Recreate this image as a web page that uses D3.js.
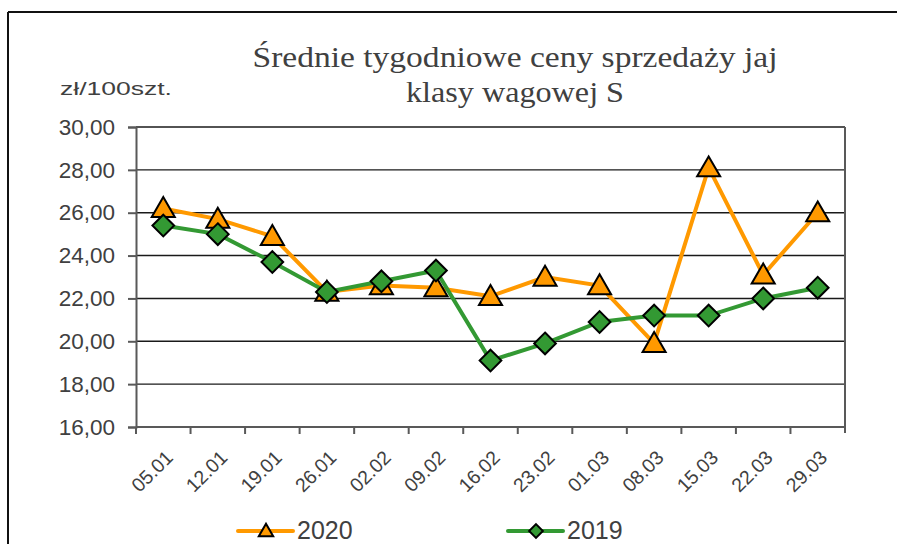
<!DOCTYPE html>
<html>
<head>
<meta charset="utf-8">
<script src="https://cdn.jsdelivr.net/npm/d3@7"></script>
<style>
  body { margin: 0; background: #fff; }
  svg { display: block; }
</style>
</head>
<body>
<svg id="wykres" width="897" height="544"></svg>
<script>
// dane
const tygodnie = ["05.01", "12.01", "19.01", "26.01", "02.02", "09.02", "16.02",
                  "23.02", "01.03", "08.03", "15.03", "22.03", "29.03"];
const ceny2020 = [26.2, 25.7, 24.9, 22.3, 22.6, 22.5, 22.1, 23.0, 22.6, 19.9, 28.1, 23.1, 26.0];
const ceny2019 = [25.4, 25.0, 23.7, 22.3, 22.8, 23.3, 19.1, 19.9, 20.9, 21.2, 21.2, 22.0, 22.5];
const ticksY = [16, 18, 20, 22, 24, 26, 28, 30];

const svg = d3.select("#wykres");
const lewo = 136, prawo = 845, gora = 127, dol = 427;

const x = d3.scaleBand().domain(tygodnie).range([lewo, prawo]).paddingInner(0).paddingOuter(0);
const y = d3.scaleLinear().domain([16, 30]).range([dol, gora]);
const cx = d => x(d) + x.bandwidth() / 2;

// ramka wykresu (górna i lewa krawędź)
svg.append("line").attr("x1", 8).attr("y1", 12).attr("x2", 897).attr("y2", 12)
    .attr("stroke", "#111").attr("stroke-width", 2);
svg.append("line").attr("x1", 8).attr("y1", 12).attr("x2", 8).attr("y2", 544)
    .attr("stroke", "#111").attr("stroke-width", 2);

// tytuł
const tytul = svg.append("text")
    .attr("font-family", "'Liberation Serif', serif")
    .attr("font-size", 29)
    .attr("fill", "#404040")
    .attr("text-anchor", "middle");
tytul.append("tspan").attr("x", 515).attr("y", 67)
    .attr("textLength", 525).attr("lengthAdjust", "spacingAndGlyphs")
    .text("Średnie tygodniowe ceny sprzedaży jaj");
tytul.append("tspan").attr("x", 515).attr("y", 102)
    .attr("textLength", 218).attr("lengthAdjust", "spacingAndGlyphs")
    .text("klasy wagowej S");

// jednostka
svg.append("text")
    .attr("x", 60).attr("y", 95)
    .attr("font-family", "Arial, 'Liberation Sans', sans-serif")
    .attr("font-size", 19)
    .attr("fill", "#404040")
    .attr("textLength", 112).attr("lengthAdjust", "spacingAndGlyphs")
    .text("zł/100szt.");

// linie siatki
svg.append("g").selectAll("line")
    .data(ticksY.filter(t => t > 16))
    .join("line")
    .attr("x1", lewo).attr("x2", prawo)
    .attr("y1", d => y(d)).attr("y2", d => y(d))
    .attr("stroke", "#1a1a1a").attr("stroke-width", 1.4);

// oś Y
const osY = svg.append("g")
    .attr("transform", `translate(${lewo},0)`)
    .call(d3.axisLeft(y).tickValues(ticksY).tickSize(8).tickPadding(13)
        .tickFormat(d => d3.format(".2f")(d).replace(".", ",")));
osY.select(".domain").attr("stroke", "#595959").attr("stroke-width", 2);
osY.selectAll(".tick line").attr("stroke", "#595959").attr("stroke-width", 2);
osY.selectAll(".tick text")
    .attr("font-family", "Arial, 'Liberation Sans', sans-serif")
    .attr("font-size", 22.5)
    .attr("fill", "#404040");

// prawa krawędź obszaru wykresu
svg.append("line").attr("x1", prawo).attr("x2", prawo).attr("y1", gora).attr("y2", dol + 6)
    .attr("stroke", "#595959").attr("stroke-width", 2);

// oś X
svg.append("line").attr("x1", lewo).attr("x2", prawo).attr("y1", dol).attr("y2", dol)
    .attr("stroke", "#595959").attr("stroke-width", 2);
svg.append("g").selectAll("line")
    .data(tygodnie)
    .join("line")
    .attr("x1", d => x(d)).attr("x2", d => x(d))
    .attr("y1", dol).attr("y2", dol + 7)
    .attr("stroke", "#595959").attr("stroke-width", 2);
svg.append("g").selectAll("text")
    .data(tygodnie)
    .join("text")
    .attr("transform", d => `translate(${cx(d) + 1},${dol + 22}) rotate(-45)`)
    .attr("text-anchor", "end")
    .attr("dy", "0.71em")
    .attr("font-family", "Arial, 'Liberation Sans', sans-serif")
    .attr("font-size", 19.5)
    .attr("fill", "#404040")
    .text(d => d);

// serie
const linia = d3.line().x((d, i) => cx(tygodnie[i])).y(d => y(d));
const trojkat = d3.symbol().type(d3.symbolTriangle);
const romb = d3.symbol().type(d3.symbolDiamond2);

svg.append("path").datum(ceny2020)
    .attr("d", linia).attr("fill", "none")
    .attr("stroke", "#FF9900").attr("stroke-width", 4);
svg.append("path").datum(ceny2019)
    .attr("d", linia).attr("fill", "none")
    .attr("stroke", "#339933").attr("stroke-width", 4);

svg.append("g").selectAll("path")
    .data(ceny2020)
    .join("path")
    .attr("transform", (d, i) => `translate(${cx(tygodnie[i])},${y(d) + 2})`)
    .attr("d", trojkat.size(230))
    .attr("fill", "#FF9900").attr("stroke", "#000").attr("stroke-width", 2);

svg.append("g").selectAll("path")
    .data(ceny2019)
    .join("path")
    .attr("transform", (d, i) => `translate(${cx(tygodnie[i])},${y(d)})`)
    .attr("d", romb.size(300))
    .attr("fill", "#339933").attr("stroke", "#000").attr("stroke-width", 2);

// legenda
const legenda = [
  { nazwa: "2020", kolor: "#FF9900", symbol: d3.symbolTriangle, rozmiar: 90, x: 238, dy: 1 },
  { nazwa: "2019", kolor: "#339933", symbol: d3.symbolDiamond2, rozmiar: 120, x: 508, dy: 0 }
];
const lg = svg.append("g").selectAll("g").data(legenda).join("g")
    .attr("transform", d => `translate(${d.x},531)`);
lg.append("line").attr("x1", 0).attr("x2", 55).attr("y1", 0).attr("y2", 0)
    .attr("stroke", d => d.kolor).attr("stroke-width", 4).attr("stroke-linecap", "round");
lg.append("path")
    .attr("transform", d => `translate(28,${d.dy})`)
    .attr("d", d => d3.symbol().type(d.symbol).size(d.rozmiar)())
    .attr("fill", d => d.kolor).attr("stroke", "#000").attr("stroke-width", 2);
lg.append("text")
    .attr("x", 59).attr("y", 8)
    .attr("font-family", "Arial, 'Liberation Sans', sans-serif")
    .attr("font-size", 25)
    .attr("fill", "#404040")
    .text(d => d.nazwa);
</script>
</body>
</html>
